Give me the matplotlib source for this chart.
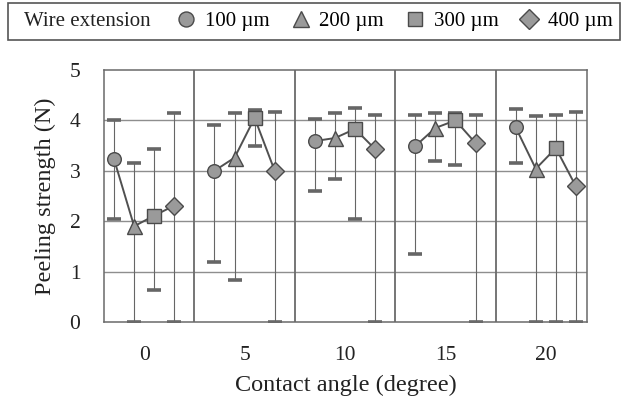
import matplotlib
matplotlib.use("Agg")
import matplotlib.pyplot as plt
from matplotlib.lines import Line2D
from matplotlib.patches import Rectangle
import numpy as np

plt.rcParams['font.family'] = ['Liberation Serif', 'DejaVu Serif']

angles = ["0", "5", "10", "15", "20"]
series = ["100 µm", "200 µm", "300 µm", "400 µm"]

# mean peeling strength per angle, one list per wire extension
mean_100 = [3.23, 3.00, 3.59, 3.49, 3.86]
mean_200 = [1.90, 3.26, 3.65, 3.85, 3.04]
mean_300 = [2.11, 4.05, 3.83, 4.00, 3.45]
mean_400 = [2.31, 3.00, 3.43, 3.55, 2.69]

# lower / upper ends of the error bars
low_100 = [2.05, 1.19, 2.59, 1.35, 3.15]
low_200 = [0.00, 0.83, 2.84, 3.19, 0.00]
low_300 = [0.63, 3.49, 2.04, 3.11, 0.00]
low_400 = [0.00, 0.00, 0.00, 0.00, 0.00]

high_100 = [4.00, 3.90, 4.03, 4.10, 4.22]
high_200 = [3.15, 4.15, 4.15, 4.15, 4.09]
high_300 = [3.43, 4.20, 4.25, 4.15, 4.10]
high_400 = [4.15, 4.17, 4.10, 4.10, 4.17]

means = np.array([mean_100, mean_200, mean_300, mean_400])
lows = np.array([low_100, low_200, low_300, low_400])
highs = np.array([high_100, high_200, high_300, high_400])

markers = ['o', '^', 's', 'D']
msizes = [9.8, 10.8, 9.5, 8.8]
offsets = [-0.30, -0.10, 0.10, 0.30]

face = '#9a9a9a'
edge = '#4a4a4a'

fig = plt.figure(figsize=(6.24, 4.03), dpi=100)
ax = fig.add_axes([104/624, 81/403, 483/624, 252/403])

ngroups = len(angles)
xg = np.arange(ngroups)

# horizontal grid lines
for yv in [1, 2, 3, 4]:
    ax.axhline(yv, color='#8e8e8e', lw=1.0, zorder=0)
# group separators
for k in range(ngroups - 1):
    ax.axvline(k + 0.5, color='#6a6a6a', lw=1.3, zorder=0)

for g in range(ngroups):
    xs = xg[g] + np.array(offsets)
    ax.plot(xs, means[:, g], color='#505050', lw=1.4, zorder=2)
    for s in range(len(series)):
        eb = ax.errorbar(xs[s], means[s, g],
                         yerr=[[means[s, g] - lows[s, g]], [highs[s, g] - means[s, g]]],
                         fmt='none', ecolor='#666666', elinewidth=0.8,
                         capsize=5, capthick=2.6, zorder=1)
        for cl in eb[1]:
            cl.set_color('#7c7c7c')
        ax.plot(xs[s], means[s, g], marker=markers[s], ms=msizes[s],
                mfc=face, mec=edge, mew=1.0, linestyle='none', zorder=3)

ax.set_xlim(-0.40, 4.41)
ax.set_ylim(0, 5)
ax.set_xticks(xg)
ax.set_xticklabels(angles)
ax.set_yticks([0, 1, 2, 3, 4, 5])
ax.tick_params(axis='both', length=0, labelsize=15.5, colors='#222222')
ax.tick_params(axis='y', pad=17)
ax.tick_params(axis='x', pad=17)
for sp in ax.spines.values():
    sp.set_color('#6a6a6a')
    sp.set_linewidth(1.1)

ax.set_xlabel("Contact angle (degree)", fontsize=17.5, color='#222222', labelpad=7)
ax.set_ylabel("Peeling strength (N)", fontsize=17.5, color='#222222', labelpad=10)

# legend box at top
fig.patches.append(Rectangle((8/624, 1 - 40/403), 612/624, 37/403,
                             transform=fig.transFigure, fill=False,
                             edgecolor='#555555', lw=1.2))
fig.text(24/624, 1 - 21.5/403, "Wire extension", fontsize=15, va='center',
         ha='left', color='#222222')
handles = [Line2D([], [], marker=m, ms=ms * 1.1, mfc=face, mec=edge, mew=1.0,
                  linestyle='none') for m, ms in zip(markers, msizes)]
fig.legend(handles, series, loc='center left', bbox_to_anchor=(176/624, 1 - 21.5/403),
           ncol=4, frameon=False, fontsize=15, borderpad=0, borderaxespad=0,
           handlelength=1.0, handletextpad=0.4, columnspacing=0.98)

fig.savefig("out.png", dpi=100)
